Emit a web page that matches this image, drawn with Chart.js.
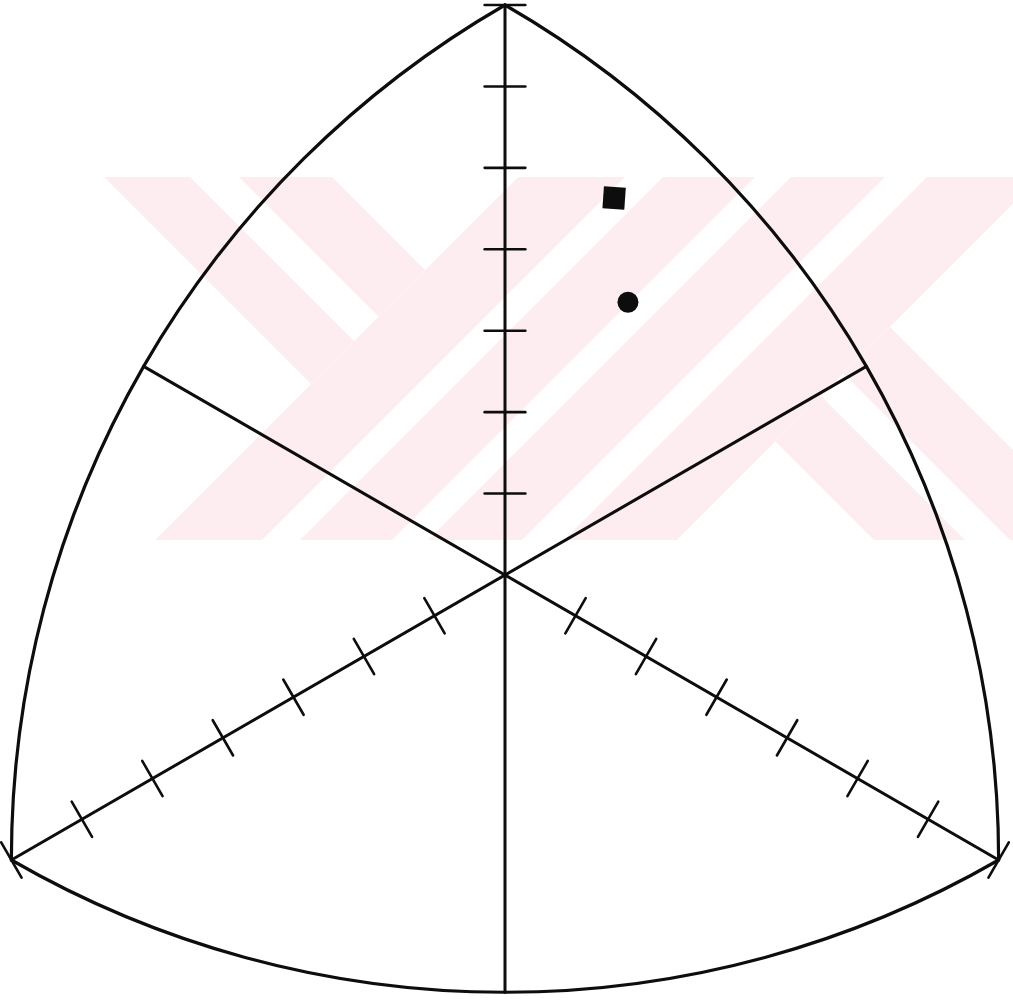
<!DOCTYPE html>
<html>
<head>
<meta charset="utf-8">
<script src="https://cdn.jsdelivr.net/npm/chart.js@4.4.1/dist/chart.umd.min.js"></script>
<style>
  html, body { margin: 0; padding: 0; background: #fff; }
  #wrap { width: 1013px; height: 1005px; }
</style>
</head>
<body>
<div id="wrap"><canvas id="diagram"></canvas></div>
<script>
// three axes of the diagram, measured in degrees from the x axis
const axisAngles = [90, 210, 330];
const axisMax = 7;
const axisTicks = [1, 2, 3, 4, 5, 6, 7];

// plotted samples, in axis units from the centre
const sampleNames = ["square", "circle"];
const sampleX = [1.34, 1.51];
const sampleY = [4.63, 3.35];
const sampleStyle = ["rect", "circle"];
const sampleSize = [15.5, 10.5];

// page layout of the diagram
const pxPerUnit = 570 / axisMax;
const centerPx = [505, 575];
const pageW = 1013;
const pageH = 1005;

const rad = (d) => (d * Math.PI) / 180;

// faint background stamp, drawn as diagonal bands
const watermark = {
  id: "watermark",
  beforeDraw(chart) {
    const { ctx } = chart;
    const top = 177;
    const bottom = 540;
    const left = 695;
    const right = 1217;

    const band = (kind, a, b) => {
      ctx.beginPath();
      if (kind === "sum") {
        ctx.moveTo(a - top, top);
        ctx.lineTo(b - top, top);
        ctx.lineTo(b - bottom, bottom);
        ctx.lineTo(a - bottom, bottom);
      } else {
        ctx.moveTo(a + top, top);
        ctx.lineTo(b + top, top);
        ctx.lineTo(b + bottom, bottom);
        ctx.lineTo(a + bottom, bottom);
      }
      ctx.closePath();
      ctx.fill();
    };
    const region = (from, to, draw) => {
      ctx.save();
      ctx.beginPath();
      ctx.moveTo(from - top, top);
      ctx.lineTo(to - top, top);
      ctx.lineTo(to - bottom, bottom);
      ctx.lineTo(from - bottom, bottom);
      ctx.closePath();
      ctx.clip();
      draw();
      ctx.restore();
    };

    ctx.save();
    ctx.fillStyle = "#fff";
    ctx.fillRect(0, 0, chart.width, chart.height);
    ctx.beginPath();
    ctx.rect(0, top, chart.width, bottom - top);
    ctx.clip();
    ctx.fillStyle = "rgb(253, 236, 240)";

    region(-2000, left, () => {
      band("diff", -73, 13);
      band("diff", 62, 155);
    });
    region(left, right, () => {
      band("sum", left, 802);
      band("sum", 840, 932);
      band("sum", 968, 1062);
      band("sum", 1104, right);
    });
    region(right, 4000, () => {
      band("diff", 334, 425);
      band("diff", 470, 563);
    });
    ctx.restore();
  },
};

// Reuleaux outline, axes through the centre and their tick marks
const frame = {
  id: "frame",
  beforeDatasetsDraw(chart) {
    const { ctx } = chart;
    const { x, y } = chart.scales;
    const toPx = (r, deg) => [
      x.getPixelForValue(r * Math.cos(rad(deg))),
      y.getPixelForValue(r * Math.sin(rad(deg))),
    ];
    const unit = x.getPixelForValue(1) - x.getPixelForValue(0);
    const side = axisMax * Math.sqrt(3);
    const inner = side - axisMax;

    ctx.save();
    ctx.strokeStyle = "#0d0d0d";
    ctx.lineCap = "round";

    ctx.lineWidth = 3.2;
    axisAngles.forEach((a) => {
      const [cx, cy] = toPx(axisMax, a);
      ctx.beginPath();
      ctx.arc(cx, cy, side * unit, -rad(a + 210), -rad(a + 150));
      ctx.stroke();
    });

    ctx.lineWidth = 3;
    axisAngles.forEach((a) => {
      const [x0, y0] = toPx(axisMax, a);
      const [x1, y1] = toPx(inner, a + 180);
      ctx.beginPath();
      ctx.moveTo(x0, y0);
      ctx.lineTo(x1, y1);
      ctx.stroke();
    });

    ctx.lineWidth = 2.6;
    const half = 0.25;
    axisAngles.forEach((a) => {
      const px = -Math.sin(rad(a));
      const py = Math.cos(rad(a));
      axisTicks.forEach((t) => {
        const ux = t * Math.cos(rad(a));
        const uy = t * Math.sin(rad(a));
        ctx.beginPath();
        ctx.moveTo(x.getPixelForValue(ux - px * half), y.getPixelForValue(uy - py * half));
        ctx.lineTo(x.getPixelForValue(ux + px * half), y.getPixelForValue(uy + py * half));
        ctx.stroke();
      });
    });
    ctx.restore();
  },
};

const datasets = sampleNames.map((name, i) => ({
  label: name,
  data: [{ x: sampleX[i], y: sampleY[i] }],
  pointStyle: sampleStyle[i],
  pointRadius: sampleSize[i],
  pointRotation: sampleStyle[i] === "rect" ? 4 : 0,
  backgroundColor: "#0d0d0d",
  borderColor: "#0d0d0d",
  borderWidth: 0,
}));

new Chart(document.getElementById("diagram").getContext("2d"), {
  type: "scatter",
  data: { datasets },
  options: {
    responsive: true,
    maintainAspectRatio: false,
    animation: false,
    events: [],
    layout: { padding: 0, autoPadding: false },
    plugins: {
      legend: { display: false },
      tooltip: { enabled: false },
    },
    scales: {
      x: {
        type: "linear",
        display: false,
        min: -centerPx[0] / pxPerUnit,
        max: (pageW - centerPx[0]) / pxPerUnit,
      },
      y: {
        type: "linear",
        display: false,
        min: -(pageH - centerPx[1]) / pxPerUnit,
        max: centerPx[1] / pxPerUnit,
      },
    },
  },
  plugins: [watermark, frame],
});
</script>
</body>
</html>
